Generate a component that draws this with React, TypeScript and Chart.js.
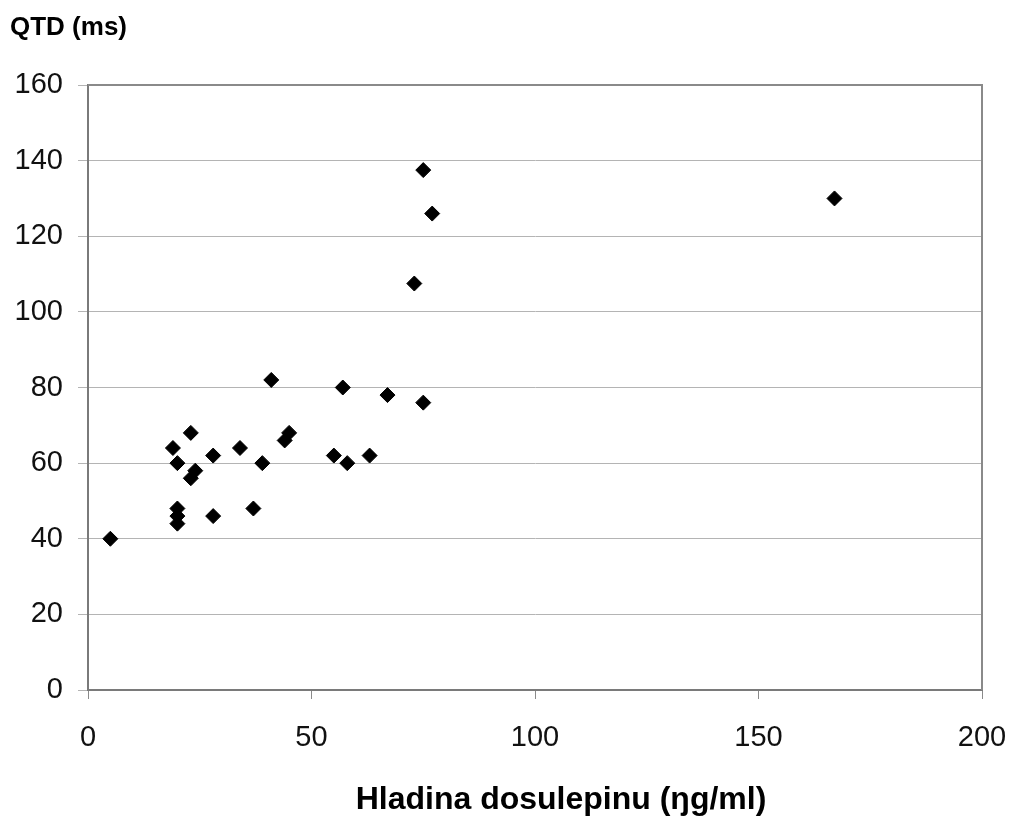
import React, { useEffect, useRef } from "react";
import { Chart, registerables } from "chart.js";

Chart.register(...registerables);

const xValues: number[] = [5, 19, 20, 23, 24, 23, 28, 20, 20, 20, 28, 34, 37, 39, 41, 44, 45, 55, 57, 58, 63, 67, 75, 75, 77, 73, 167];
const yValues: number[] = [40, 64, 60, 68, 58, 56, 62, 48, 46, 44, 46, 64, 48, 60, 82, 66, 68, 62, 80, 60, 62, 78, 76, 137.5, 126, 107.5, 130];
const yTitle = "QTD (ms)";
const xTitle = "Hladina dosulepinu (ŋg/ml)";
const xTicks: number[] = [0, 50, 100, 150, 200];
const yTicks: number[] = [0, 20, 40, 60, 80, 100, 120, 140, 160];

const FONT = "'Liberation Sans', Arial, sans-serif";

const framePlugin = {
  id: "frameAndTitles",
  afterDraw(chart: any) {
    const { ctx, chartArea } = chart;
    ctx.save();
    ctx.strokeStyle = "#8a8a8a";
    ctx.lineWidth = 2;
    ctx.beginPath();
    ctx.moveTo(chartArea.left, chartArea.top);
    ctx.lineTo(chartArea.right, chartArea.top);
    ctx.lineTo(chartArea.right, chartArea.bottom);
    ctx.stroke();
    ctx.fillStyle = "#000";
    ctx.font = `bold 26px ${FONT}`;
    ctx.textAlign = "left";
    ctx.textBaseline = "middle";
    ctx.fillText(yTitle, 10, 28);
    ctx.font = `bold 32px ${FONT}`;
    ctx.textAlign = "center";
    ctx.fillText(xTitle, 561, 800);
    ctx.restore();
  },
};

export default function App() {
  const ref = useRef<HTMLCanvasElement | null>(null);
  useEffect(() => {
    if (!ref.current) return;
    const data = xValues.map((x, i) => ({ x, y: yValues[i] }));
    const chart = new Chart(ref.current, {
      type: "scatter",
      data: {
        datasets: [
          {
            data,
            pointStyle: "rectRot",
            pointRadius: 7.5,
            pointBackgroundColor: "#000",
            pointBorderColor: "#000",
            borderWidth: 1,
          },
        ],
      },
      options: {
        animation: false,
        responsive: true,
        maintainAspectRatio: false,
        layout: { padding: { top: 85, right: 30, left: 0, bottom: 0 } },
        plugins: { legend: { display: false }, tooltip: { enabled: false }, title: { display: false } },
        scales: {
          x: {
            type: "linear",
            min: 0,
            max: 200,
            afterFit: (s: any) => { s.height = 129; s.paddingRight = 0; s.paddingLeft = 0; },
            afterBuildTicks: (s: any) => { s.ticks = xTicks.map((v) => ({ value: v })); },
            ticks: { font: { family: FONT, size: 29 }, color: "#111", padding: 22, maxRotation: 0 },
            grid: { drawOnChartArea: false, drawTicks: true, tickLength: 9, color: "#8a8a8a", lineWidth: 1 },
            border: { display: true, color: "#7a7a7a", width: 2 },
          },
          y: {
            type: "linear",
            min: 0,
            max: 160,
            afterFit: (s: any) => { s.width = 88; },
            afterBuildTicks: (s: any) => { s.ticks = yTicks.map((v) => ({ value: v })); },
            ticks: { font: { family: FONT, size: 29 }, color: "#111", padding: 15 },
            grid: { color: "#b4b4b4", lineWidth: 1, tickLength: 10, drawTicks: true },
            border: { display: true, color: "#7a7a7a", width: 2 },
          },
        },
      },
      plugins: [framePlugin],
    });
    return () => chart.destroy();
  }, []);
  return (
    <div style={{ position: "absolute", left: 0, top: 0, width: 1012, height: 819, background: "#fff" }}>
      <canvas ref={ref} />
    </div>
  );
}
